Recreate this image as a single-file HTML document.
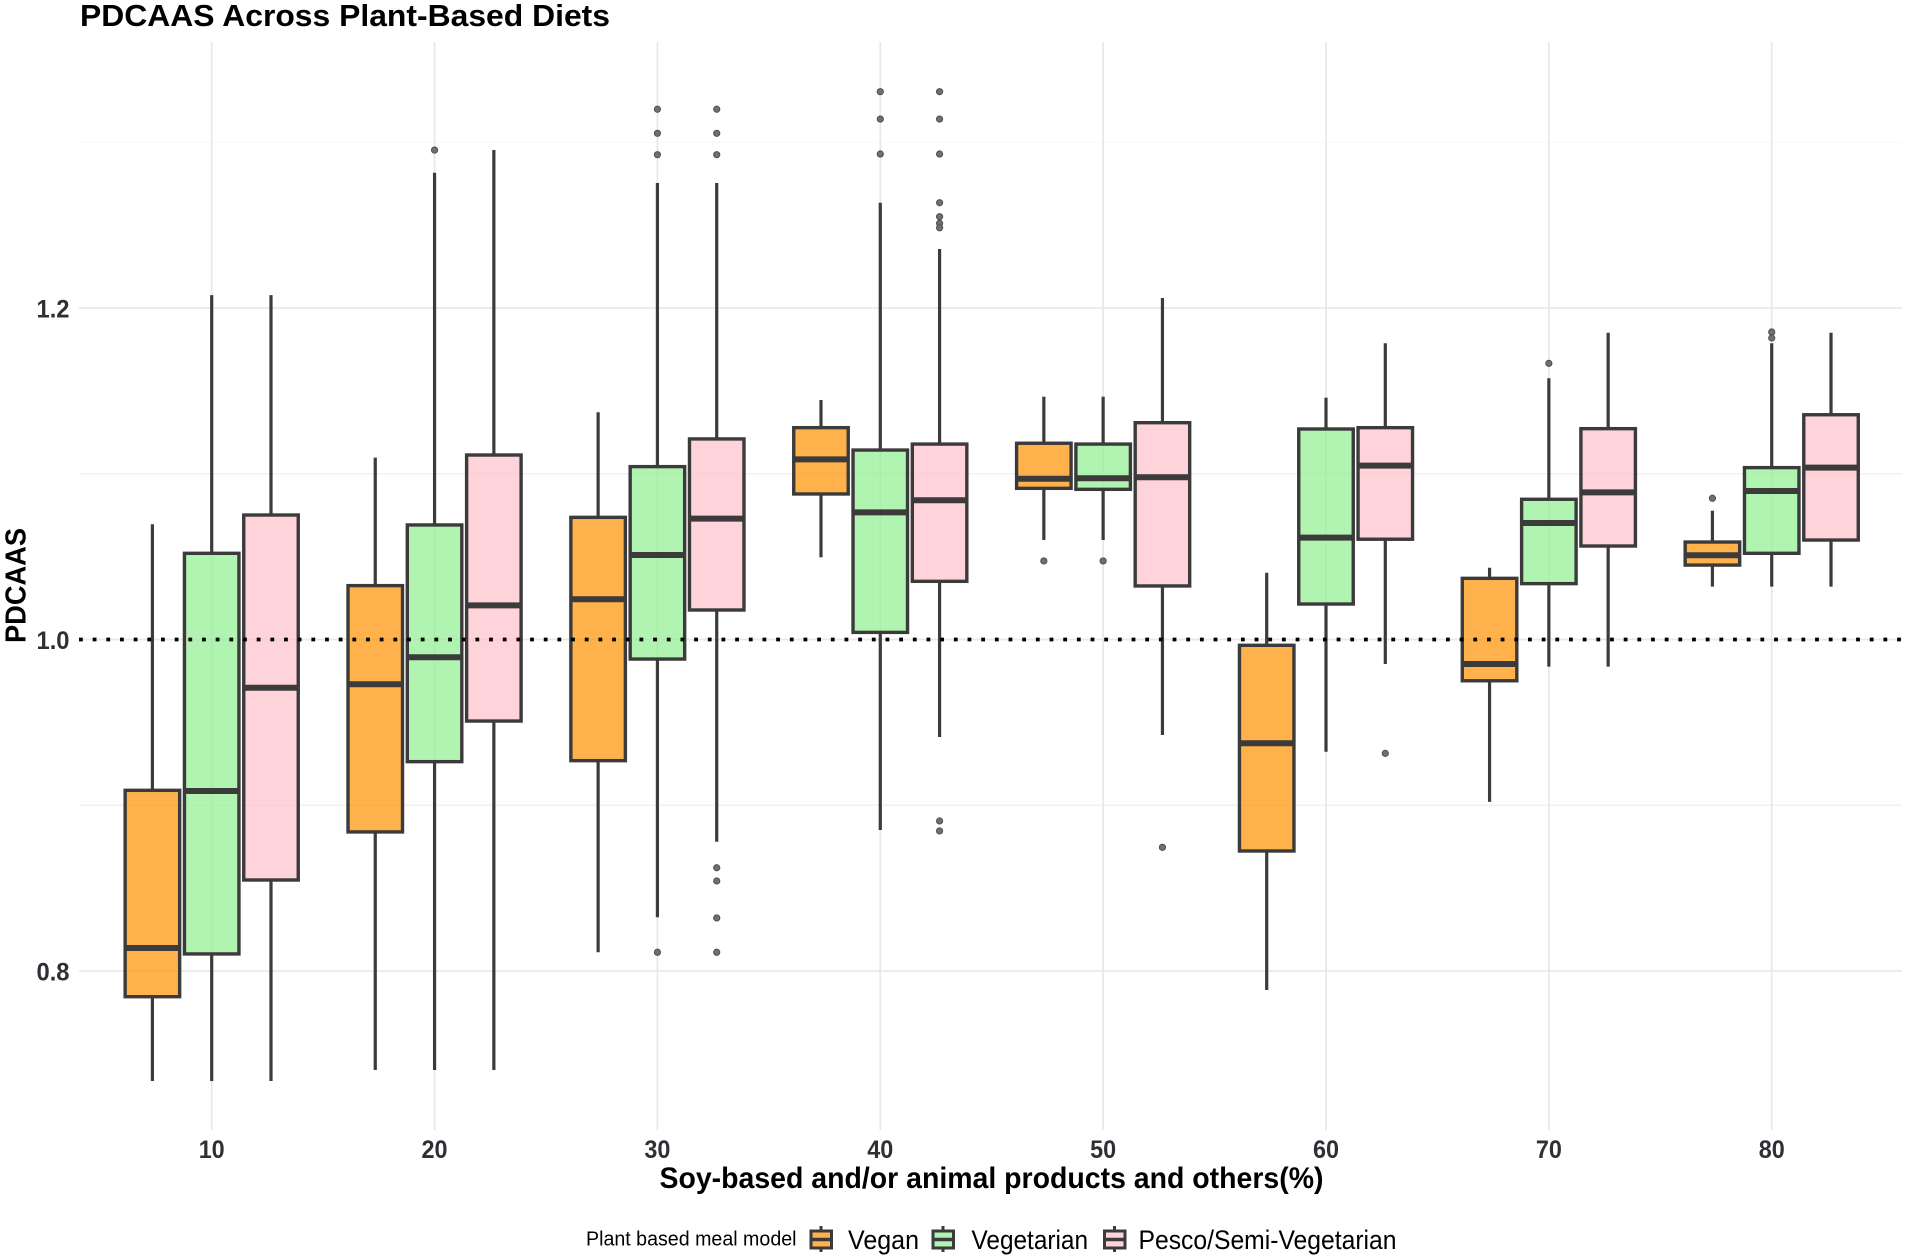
<!DOCTYPE html>
<html lang="en">
<head>
<meta charset="utf-8">
<title>PDCAAS Across Plant-Based Diets</title>
<style>
html,body{margin:0;padding:0;background:#fff;}
svg{display:block;font-family:"Liberation Sans",sans-serif;filter:blur(0.35px);}
</style>
</head>
<body>
<svg id="chart" width="1908" height="1257" viewBox="0 0 1908 1257" xmlns="http://www.w3.org/2000/svg">
  <rect x="0" y="0" width="1908" height="1257" fill="#ffffff"/>
  <g id="grid"></g>
  <g id="boxes"></g>
  <g id="refline"></g>
  <g id="ticks"></g>

  <text x="80" y="26" font-size="31" font-weight="700" fill="#000" textLength="530" lengthAdjust="spacingAndGlyphs">PDCAAS Across Plant-Based Diets</text>
  <text transform="translate(25.5,643) rotate(-90)" font-size="29" font-weight="700" fill="#000" textLength="115" lengthAdjust="spacingAndGlyphs">PDCAAS</text>
  <text x="659.5" y="1188" font-size="29.5" font-weight="700" fill="#000" textLength="664" lengthAdjust="spacingAndGlyphs">Soy-based and/or animal products and others(%)</text>

  <g>
    <text x="586" y="1245.5" font-size="20.5" fill="#000" textLength="210.5" lengthAdjust="spacingAndGlyphs">Plant based meal model</text>

    <g>
      <line x1="821" x2="821" y1="1226" y2="1252" stroke="#3b3b3b" stroke-width="3"/>
      <rect x="811" y="1231" width="20.5" height="17" fill="#ffffff" stroke="none"/>
      <rect x="811" y="1231" width="20.5" height="17" fill="#ff9200" fill-opacity="0.7" stroke="#3b3b3b" stroke-width="3"/>
      <line x1="811" x2="831.5" y1="1239.5" y2="1239.5" stroke="#3b3b3b" stroke-width="3.5"/>
      <text x="848" y="1249" font-size="26.5" fill="#000" textLength="71" lengthAdjust="spacingAndGlyphs">Vegan</text>
    </g>

    <g>
      <line x1="943" x2="943" y1="1226" y2="1252" stroke="#3b3b3b" stroke-width="3"/>
      <rect x="933" y="1231" width="20.5" height="17" fill="#ffffff" stroke="none"/>
      <rect x="933" y="1231" width="20.5" height="17" fill="#90ee90" fill-opacity="0.7" stroke="#3b3b3b" stroke-width="3"/>
      <line x1="933" x2="953.5" y1="1239.5" y2="1239.5" stroke="#3b3b3b" stroke-width="3.5"/>
      <text x="971.5" y="1249" font-size="26.5" fill="#000" textLength="116.5" lengthAdjust="spacingAndGlyphs">Vegetarian</text>
    </g>

    <g>
      <line x1="1114.5" x2="1114.5" y1="1226" y2="1252" stroke="#3b3b3b" stroke-width="3"/>
      <rect x="1104.5" y="1231" width="20.5" height="17" fill="#ffffff" stroke="none"/>
      <rect x="1104.5" y="1231" width="20.5" height="17" fill="#ffc0cb" fill-opacity="0.7" stroke="#3b3b3b" stroke-width="3"/>
      <line x1="1104.5" x2="1125" y1="1239.5" y2="1239.5" stroke="#3b3b3b" stroke-width="3.5"/>
      <text x="1138.5" y="1249" font-size="26.5" fill="#000" textLength="258" lengthAdjust="spacingAndGlyphs">Pesco/Semi-Vegetarian</text>
    </g>
  </g>
</svg>

<script>
// ---- Data ----
const categories = [10, 20, 30, 40, 50, 60, 70, 80];
const xTickLabels = ['10', '20', '30', '40', '50', '60', '70', '80'];
const yMajorTicks = [0.8, 1.0, 1.2];
const yMinorTicks = [0.9, 1.1, 1.3];
const yTickLabels = ['0.8', '1.0', '1.2'];
const referenceValue = 1.0;

const veganHigh   = [1.0695, 1.1097, 1.1371, 1.1445, 1.1465, 1.0403, 1.0433, 1.0777];
const veganQ3     = [0.9090, 1.0325, 1.0737, 1.1278, 1.1184, 0.9965, 1.0369, 1.0588];
const veganMedian = [0.8139, 0.9730, 1.0243, 1.1087, 1.0970, 0.9374, 0.9852, 1.0508];
const veganQ1     = [0.7845, 0.8839, 0.9269, 1.0878, 1.0912, 0.8724, 0.9751, 1.0449];
const veganLow    = [0.7336, 0.7403, 0.8113, 1.0496, 1.0600, 0.7885, 0.9020, 1.0319];
const veganOutliers = [[], [], [], [], [1.0474], [], [], [1.0852]];

const vegetarianHigh   = [1.2078, 1.2816, 1.2754, 1.2635, 1.1465, 1.1459, 1.1576, 1.1787];
const vegetarianQ3     = [1.0520, 1.0691, 1.1043, 1.1143, 1.1179, 1.1270, 1.0846, 1.1037];
const vegetarianMedian = [0.9086, 0.9893, 1.0510, 1.0767, 1.0973, 1.0615, 1.0703, 1.0896];
const vegetarianQ1     = [0.8103, 0.9263, 0.9882, 1.0043, 1.0906, 1.0214, 1.0337, 1.0520];
const vegetarianLow    = [0.7336, 0.7403, 0.8324, 0.8851, 1.0600, 0.9323, 0.9836, 1.0319];
const vegetarianOutliers = [[], [1.2953], [1.3199, 1.3054, 1.2925, 0.8113], [1.3305, 1.3140, 1.2929], [1.0474], [], [1.1666], [1.1855, 1.1819]];

const pescoHigh   = [1.2078, 1.2953, 1.2754, 1.2356, 1.2060, 1.1787, 1.1851, 1.1851];
const pescoQ3     = [1.0751, 1.1113, 1.1210, 1.1179, 1.1308, 1.1278, 1.1272, 1.1356];
const pescoMedian = [0.9709, 1.0206, 1.0729, 1.0840, 1.0979, 1.1049, 1.0888, 1.1037];
const pescoQ1     = [0.8549, 0.9508, 1.0178, 1.0351, 1.0323, 1.0605, 1.0564, 1.0600];
const pescoLow    = [0.7336, 0.7403, 0.8780, 0.9412, 0.9424, 0.9852, 0.9836, 1.0319];
const pescoOutliers = [[], [], [1.3199, 1.3054, 1.2925, 0.8623, 0.8543, 0.8320, 0.8113], [1.3305, 1.3140, 1.2929, 1.2635, 1.2551, 1.2511, 1.2484, 0.8905, 0.8845], [0.8746], [0.9313], [], []];

// ---- Axis functions ----
function xScale(v) { return 211.7 + (v - 10) * 22.286; }
function yScale(v) { return 639.5 - (v - 1) * 1657.5; }

const PANEL = { left: 79, right: 1902, top: 42, bottom: 1130 };
const DODGE = 59.3;
const BOX_W = 54.5;
const STROKE = '#3b3b3b';
const NS = 'http://www.w3.org/2000/svg';

function make(parent, tag, attrs) {
  const el = document.createElementNS(NS, tag);
  for (const k in attrs) el.setAttribute(k, attrs[k]);
  parent.appendChild(el);
  return el;
}

const gridG = document.getElementById('grid');
const boxesG = document.getElementById('boxes');
const refG = document.getElementById('refline');
const ticksG = document.getElementById('ticks');

// Grid
yMinorTicks.forEach(function (t) {
  const el = make(gridG, 'line', { x1: PANEL.left, x2: PANEL.right, y1: yScale(t), y2: yScale(t), stroke: t > 1.25 ? '#fafafa' : '#f0f0f0', 'stroke-width': 1.4 });
  
  
});
yMajorTicks.forEach(function (t) {
  const el = make(gridG, 'line', { x1: PANEL.left, x2: PANEL.right, y1: yScale(t), y2: yScale(t), stroke: '#e9e9e9', 'stroke-width': 1.8 });
  
  
});
categories.forEach(function (c) {
  const el = make(gridG, 'line', { x1: xScale(c), x2: xScale(c), y1: PANEL.top, y2: PANEL.bottom, stroke: '#e6e6e6', 'stroke-width': 1.6 });
  
  
});

// Box plots
function drawSeries(name, fill, offset, high, q3, median, q1, low, outliers) {
  categories.forEach(function (c, i) {
    const cx = xScale(c) + offset * DODGE;
    const g = make(boxesG, 'g', {});
    
    

    const upper = make(g, 'line', { x1: cx, x2: cx, y1: yScale(high[i]), y2: yScale(q3[i]), stroke: STROKE, 'stroke-width': 3.2 });
    
    

    const lower = make(g, 'line', { x1: cx, x2: cx, y1: yScale(q1[i]), y2: yScale(low[i]), stroke: STROKE, 'stroke-width': 3.2 });
    
    

    const box = make(g, 'rect', {
      x: cx - BOX_W / 2, y: yScale(q3[i]), width: BOX_W, height: yScale(q1[i]) - yScale(q3[i]),
      fill: fill, 'fill-opacity': 0.7, stroke: STROKE, 'stroke-width': 3.4
    });
    
    

    const med = make(g, 'line', { x1: cx - BOX_W / 2, x2: cx + BOX_W / 2, y1: yScale(median[i]), y2: yScale(median[i]), stroke: STROKE, 'stroke-width': 6 });
    
    

    outliers[i].forEach(function (v) {
      const dot = make(g, 'circle', { cx: cx, cy: yScale(v), r: 3.1, fill: '#707070', stroke: '#4f4f4f', 'stroke-width': 1 });
      
      
    });
  });
}
drawSeries('vegan', '#ff9200', -1, veganHigh, veganQ3, veganMedian, veganQ1, veganLow, veganOutliers);
drawSeries('vegetarian', '#90ee90', 0, vegetarianHigh, vegetarianQ3, vegetarianMedian, vegetarianQ1, vegetarianLow, vegetarianOutliers);
drawSeries('pesco', '#ffc0cb', 1, pescoHigh, pescoQ3, pescoMedian, pescoQ1, pescoLow, pescoOutliers);

// Reference line
const refLine = make(refG, 'line', { x1: PANEL.left, x2: PANEL.right, y1: yScale(referenceValue), y2: yScale(referenceValue), stroke: '#000000', 'stroke-width': 3.8, 'stroke-dasharray': '3.8 9.87' });



// Tick labels
categories.forEach(function (c, i) {
  const el = make(ticksG, 'text', { x: xScale(c), y: 1158, 'font-size': 25, 'font-weight': 700, fill: '#2f3036', 'text-anchor': 'middle', textLength: 26, lengthAdjust: 'spacingAndGlyphs' });
  el.textContent = xTickLabels[i];
  
  
});
yMajorTicks.forEach(function (t, i) {
  const el = make(ticksG, 'text', { x: 69.5, y: yScale(t) + 9.5, 'font-size': 25, 'font-weight': 700, fill: '#2f3036', 'text-anchor': 'end', textLength: 33, lengthAdjust: 'spacingAndGlyphs' });
  el.textContent = yTickLabels[i];
  
  
});
</script>
</body>
</html>
